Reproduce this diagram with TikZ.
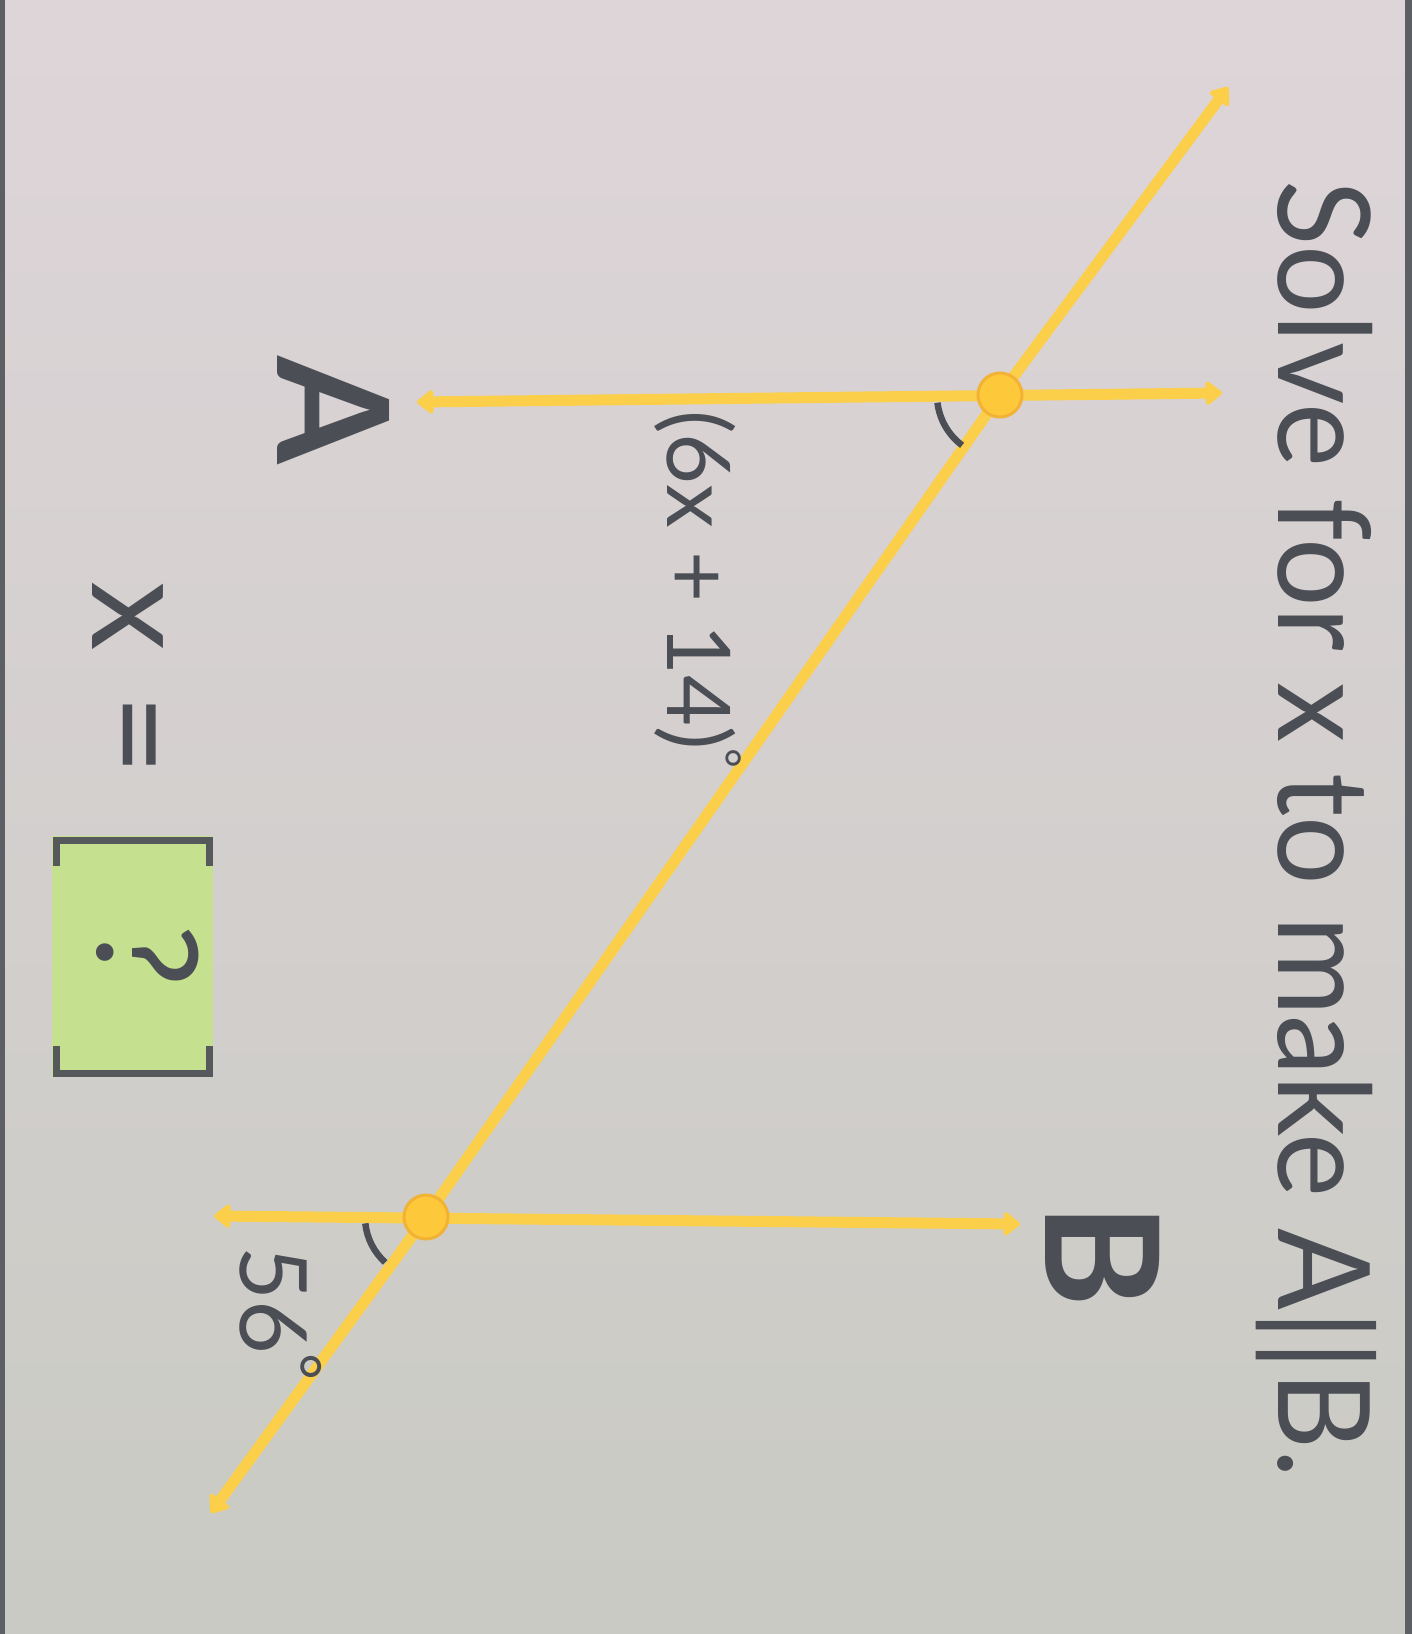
\documentclass[tikz,border=0pt]{standalone}
\usepackage{fontspec}
\setmainfont{Lato}
\usetikzlibrary{arrows.meta}
\definecolor{bgtop}{HTML}{DED5D9}
\definecolor{bgmid}{HTML}{DFE0DB}
\definecolor{bgbot}{HTML}{C9CAC3}
\definecolor{edge}{HTML}{5C6064}
\definecolor{lineyel}{HTML}{FCCF4A}
\definecolor{dotfill}{HTML}{FDC93A}
\definecolor{dotedge}{HTML}{F2B236}
\definecolor{txt}{HTML}{4B4E55}
\definecolor{boxgreen}{HTML}{C5E08F}
\definecolor{brack}{HTML}{55595C}
\newcommand{\smalldeg}[2]{\raisebox{#2}{\fontsize{#1}{#1}\selectfont °}}
\begin{document}
\begin{tikzpicture}[x=1pt,y=-1pt,
  ray/.style={draw=lineyel, line width=11pt, line cap=round, line join=round,
    {Triangle[round,length=18pt,width=27pt]}-{Triangle[round,length=18pt,width=27pt]}},
  dotnode/.style={circle, fill=dotfill, draw=dotedge, line width=3pt, minimum size=44pt, inner sep=0pt},
  anglearc/.style={draw=txt, line width=6.5pt},
  lbl/.style={rotate=-90, inner sep=0pt, text=txt},
  brk/.style={draw=brack, line width=7pt}
]
% background
\useasboundingbox (0,0) rectangle (1412,1634);
\shade[top color=bgtop, middle color=bgmid, bottom color=bgbot] (0,0) rectangle (1412,1634);
\fill[edge] (0,0) rectangle (5,1634);
\fill[edge] (1405,0) rectangle (1412,1634);

% coordinates
\coordinate (pc) at (1000,395);
\coordinate (qc) at (426,1217);
\coordinate (aL) at (417,402);
\coordinate (aR) at (1222,393);
\coordinate (bL) at (214,1216);
\coordinate (bR) at (1020,1224);
\coordinate (tT) at (1228,87);
\coordinate (tB) at (211,1513);

% lines
\draw[ray] (aL) -- (aR);
\draw[ray] (bL) -- (bR);
\draw[ray] (tT) -- (pc) -- (qc) -- (tB);

% angle arcs
\draw[anglearc] ([shift={(173:63)}]pc) arc[start angle=173, end angle=127, radius=63];
\draw[anglearc] ([shift={(174:61)}]qc) arc[start angle=174, end angle=132, radius=61];

% dots
\node[dotnode] (P) at (pc) {};
\node[dotnode] (Q) at (qc) {};

% texts
\node[lbl, anchor=base west, font=\fontsize{128}{140}\selectfont] (title) at (1278,180) {\scalebox{0.945}[1]{Solve for x to make A||B.}};
\node[lbl, anchor=base, font=\bfseries\fontsize{155}{160}\selectfont] (labA) at (277,410) {A};
\node[lbl, anchor=base, font=\bfseries\fontsize{158}{160}\selectfont] (labB) at (1045,1256) {B};
\node[lbl, anchor=base west, font=\fontsize{88}{90}\selectfont] (ang1) at (667,410) {(6x + 14)\kern-2pt\smalldeg{48}{39pt}};
\node[lbl, anchor=base west, font=\fontsize{93}{100}\selectfont] (ang2) at (240,1246) {56\kern-1pt\smalldeg{65}{34pt}};
\node[lbl, anchor=base west, font=\fontsize{140}{140}\selectfont] (xeq) at (92,581) {x\kern8pt{} =};

% answer box
\fill[boxgreen] (52,836) rectangle (213,1077);
\node[lbl, anchor=base, font=\fontsize{140}{140}\selectfont] (qm) at (97,956) {?};
\draw[brk] (56,866) -- (56,840) -- (209,840) -- (209,866);
\draw[brk] (56,1046) -- (56,1073) -- (209,1073) -- (209,1046);
\end{tikzpicture}
\end{document}
